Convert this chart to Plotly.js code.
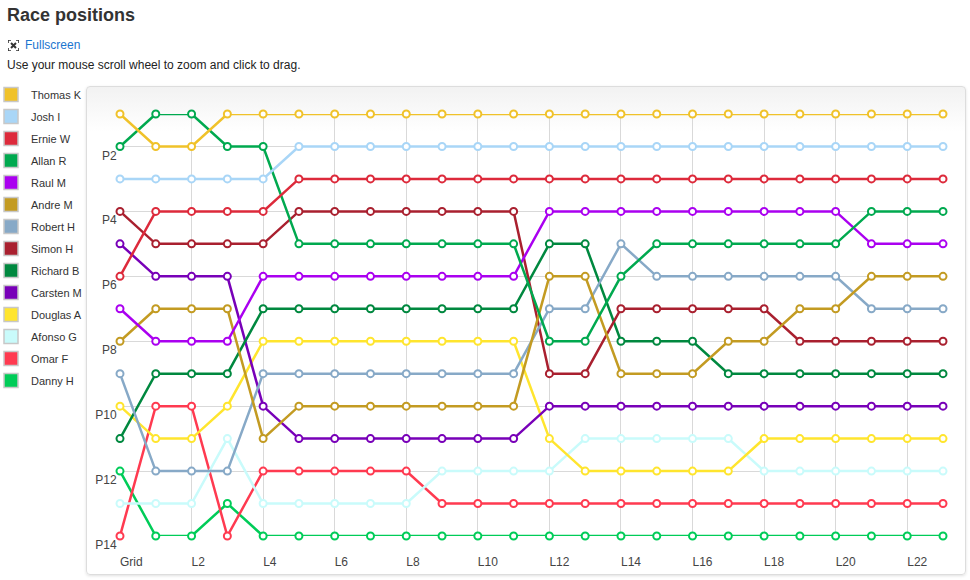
<!DOCTYPE html>
<html><head><meta charset="utf-8">
<script src="https://cdn.plot.ly/plotly-3.0.1.min.js"></script>
<style>
body{margin:0;width:970px;height:580px;overflow:hidden;background:#fff;font-family:"Liberation Sans",Arial,sans-serif;position:relative}
#title{position:absolute;left:7px;top:5px;font-size:18px;font-weight:bold;color:#333;margin:0}
#fs{position:absolute;left:8px;top:38px;font-size:12px;color:#1b75cf;display:flex;align-items:center}
#fs svg{margin-right:6px}
#hint{position:absolute;left:7px;top:58px;font-size:12px;color:#222}
#box{position:absolute;left:86px;top:86px;width:878px;height:487px;border:1px solid #ddd;border-radius:4px;background:linear-gradient(#f2f2f2,#fff 45px);box-shadow:0 1px 3px rgba(0,0,0,.12)}
#chart{position:absolute;left:0;top:0;width:970px;height:580px}
</style></head>
<body>
<div id="title">Race positions</div>
<div id="fs"><svg width="11" height="11" viewBox="0 0 11 11"><path d="M0 3V0h3M8 0h3v3M11 8v3H8M3 11H0V8" fill="none" stroke="#333" stroke-width="1.6"/><path d="M3 3l5 5M8 3l-5 5" stroke="#333" stroke-width="2"/></svg>Fullscreen</div>
<div id="hint">Use your mouse scroll wheel to zoom and click to drag.</div>
<div id="box"></div>
<div id="chart"></div>
<script>
const laps = ["Grid","L1","L2","L3","L4","L5","L6","L7","L8","L9","L10","L11","L12","L13","L14","L15","L16","L17","L18","L19","L20","L21","L22","L23"];
const lapTicks = ["Grid","L2","L4","L6","L8","L10","L12","L14","L16","L18","L20","L22"];
const posTicks = [2,4,6,8,10,12,14];
const posLabels = ["P2","P4","P6","P8","P10","P12","P14"];

const drivers = ["Thomas K","Josh I","Ernie W","Allan R","Raul M","Andre M","Robert H","Simon H","Richard B","Carsten M","Douglas A","Afonso G","Omar F","Danny H"];
const driverColors = ["#f0c22a","#a9d6f7","#dd2a3b","#00a94f","#aa00f0","#c39b22","#87a9c7","#a9202f","#00883f","#7800b8","#ffe52e","#c9fbfb","#ff3a50","#00cc58"];

const thomasK = [1,2,2,1,1,1,1,1,1,1,1,1,1,1,1,1,1,1,1,1,1,1,1,1];
const joshI   = [3,3,3,3,3,2,2,2,2,2,2,2,2,2,2,2,2,2,2,2,2,2,2,2];
const ernieW  = [6,4,4,4,4,3,3,3,3,3,3,3,3,3,3,3,3,3,3,3,3,3,3,3];
const allanR  = [2,1,1,2,2,5,5,5,5,5,5,5,8,8,6,5,5,5,5,5,5,4,4,4];
const raulM   = [7,8,8,8,6,6,6,6,6,6,6,6,4,4,4,4,4,4,4,4,4,5,5,5];
const andreM  = [8,7,7,7,11,10,10,10,10,10,10,10,6,6,9,9,9,8,8,7,7,6,6,6];
const robertH = [9,12,12,12,9,9,9,9,9,9,9,9,7,7,5,6,6,6,6,6,6,7,7,7];
const simonH  = [4,5,5,5,5,4,4,4,4,4,4,4,9,9,7,7,7,7,7,8,8,8,8,8];
const richardB= [11,9,9,9,7,7,7,7,7,7,7,7,5,5,8,8,8,9,9,9,9,9,9,9];
const carstenM= [5,6,6,6,10,11,11,11,11,11,11,11,10,10,10,10,10,10,10,10,10,10,10,10];
const douglasA= [10,11,11,10,8,8,8,8,8,8,8,8,11,12,12,12,12,12,11,11,11,11,11,11];
const afonsoG = [13,13,13,11,13,13,13,13,13,12,12,12,12,11,11,11,11,11,12,12,12,12,12,12];
const omarF   = [14,10,10,14,12,12,12,12,12,13,13,13,13,13,13,13,13,13,13,13,13,13,13,13];
const dannyH  = [12,14,14,13,14,14,14,14,14,14,14,14,14,14,14,14,14,14,14,14,14,14,14,14];

const series = [thomasK,joshI,ernieW,allanR,raulM,andreM,robertH,simonH,richardB,carstenM,douglasA,afonsoG,omarF,dannyH];

const traces = [];
for (let i = drivers.length-1; i >= 0; i--) {
  traces.push({
    type:'scatter', mode:'lines+markers', x:laps, y:series[i], name:drivers[i],
    legendgroup:'g'+i, showlegend:false, cliponaxis:false,
    line:{color:driverColors[i], width:2.5},
    marker:{symbol:'circle', size:7, color:'#fff', line:{color:driverColors[i], width:2}},
    hoverinfo:'x+y+name'
  });
}
for (let i = 0; i < drivers.length; i++) {
  traces.push({
    type:'scatter', mode:'markers', x:[null], y:[null], name:drivers[i],
    legendgroup:'g'+i, showlegend:true,
    marker:{symbol:'square', size:14, color:driverColors[i], line:{color:'#c8c8c8', width:1.5}}
  });
}

const layout = {
  width:970, height:580,
  margin:{l:120, r:27, t:114, b:44},
  paper_bgcolor:'rgba(0,0,0,0)', plot_bgcolor:'rgba(0,0,0,0)',
  font:{family:'"Liberation Sans", Arial, sans-serif', size:12, color:'#444'},
  showlegend:true,
  legend:{xref:'container', yref:'container', x:0, xanchor:'left', y:0.862, yanchor:'top',
          traceorder:'grouped', tracegroupgap:3, indentation:-9, maxheight:500,
          font:{size:11, color:'#333'}, bgcolor:'rgba(0,0,0,0)', borderwidth:0},
  xaxis:{type:'category', range:[0,23], tickvals:lapTicks, ticktext:lapTicks,
         showgrid:true, gridcolor:'#d9d9d9', gridwidth:1, zeroline:false, showline:false,
         ticks:'', ticklabelposition:'outside right', ticklabelstandoff:17,
         fixedrange:true},
  yaxis:{range:[14,1], tickvals:posTicks, ticktext:posLabels,
         showgrid:true, gridcolor:'#d9d9d9', gridwidth:1, zeroline:false, showline:false,
         ticks:'outside', ticklen:12, tickcolor:'rgba(0,0,0,0)', ticklabelposition:'outside bottom',
         fixedrange:true}
};
Plotly.newPlot('chart', traces, layout, {displayModeBar:false});
</script>
</body></html>
